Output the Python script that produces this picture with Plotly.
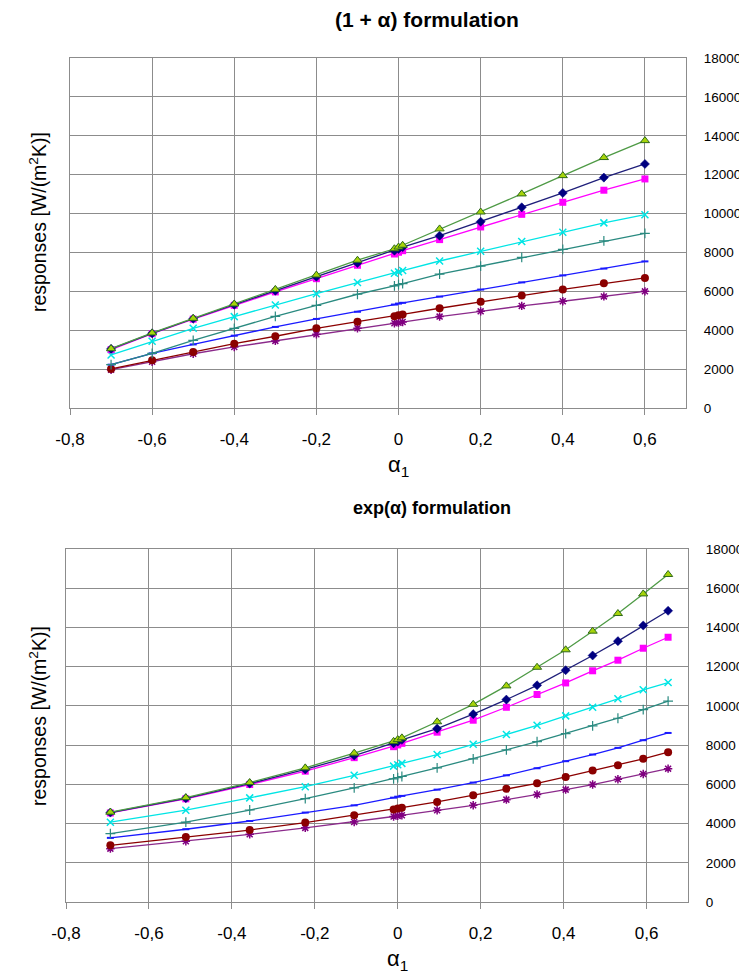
import plotly.graph_objects as go

W, H = 747, 976
OFF = 8  # default page body margin

# ---------------- data ----------------
x_top = [-0.7, -0.6, -0.5, -0.4, -0.3, -0.2, -0.1, -0.01, 0, 0.01, 0.1, 0.2, 0.3, 0.4, 0.5, 0.6]
top_green = [3050, 3860, 4610, 5350, 6100, 6840, 7600, 8190, 8280, 8370, 9210, 10080, 11010, 11950, 12880, 13750]
top_navy = [3040, 3840, 4590, 5310, 6030, 6750, 7460, 8090, 8180, 8270, 8860, 9580, 10320, 11060, 11850, 12550]
top_magenta = [3000, 3820, 4570, 5280, 5970, 6650, 7340, 7920, 8010, 8090, 8660, 9310, 9960, 10580, 11200, 11780]
top_cyan = [2730, 3430, 4100, 4700, 5300, 5880, 6450, 6930, 7000, 7070, 7560, 8060, 8560, 9040, 9520, 9940]
top_teal = [2230, 2810, 3480, 4100, 4710, 5280, 5850, 6280, 6340, 6400, 6880, 7300, 7750, 8160, 8590, 8980]
top_blue = [2230, 2810, 3270, 3720, 4170, 4580, 4950, 5320, 5370, 5410, 5730, 6090, 6460, 6820, 7170, 7540]
top_darkred = [2010, 2450, 2880, 3310, 3690, 4100, 4440, 4720, 4770, 4810, 5130, 5470, 5780, 6100, 6410, 6690]
top_purple = [1970, 2380, 2790, 3140, 3450, 3790, 4100, 4360, 4390, 4420, 4700, 4970, 5250, 5490, 5740, 6000]

x_bot = [-0.693, -0.511, -0.357, -0.223, -0.105, -0.01, 0, 0.01, 0.095, 0.182, 0.262, 0.336, 0.405, 0.47, 0.531, 0.592, 0.652]
bot_green = [4580, 5320, 6090, 6840, 7590, 8190, 8280, 8370, 9190, 10080, 11020, 11970, 12860, 13810, 14710, 15710, 16700]
bot_navy = [4560, 5290, 6040, 6760, 7470, 8090, 8180, 8270, 8840, 9580, 10320, 11050, 11820, 12570, 13300, 14100, 14850]
bot_magenta = [4540, 5260, 5990, 6670, 7360, 7920, 8010, 8090, 8660, 9270, 9930, 10580, 11170, 11790, 12330, 12940, 13500]
bot_cyan = [4070, 4680, 5310, 5880, 6460, 6930, 7000, 7070, 7520, 8040, 8540, 9010, 9490, 9930, 10360, 10820, 11190]
bot_teal = [3490, 4070, 4690, 5270, 5820, 6280, 6340, 6400, 6840, 7300, 7760, 8180, 8590, 8980, 9370, 9810, 10240]
bot_blue = [3270, 3710, 4130, 4560, 4930, 5320, 5370, 5410, 5730, 6090, 6460, 6820, 7180, 7520, 7860, 8250, 8620]
bot_darkred = [2890, 3320, 3670, 4050, 4420, 4720, 4770, 4810, 5100, 5440, 5770, 6050, 6380, 6700, 6970, 7300, 7640]
bot_purple = [2720, 3100, 3450, 3780, 4080, 4360, 4390, 4420, 4680, 4930, 5220, 5480, 5730, 5990, 6260, 6530, 6800]

x_tickvals = [-0.8, -0.6, -0.4, -0.2, 0, 0.2, 0.4, 0.6]
x_ticktext = ["-0,8", "-0,6", "-0,4", "-0,2", "0", "0,2", "0,4", "0,6"]
y_tickvals = [0, 2000, 4000, 6000, 8000, 10000, 12000, 14000, 16000, 18000]

title_top = "<b>(1 + α) formulation</b>"
title_bot = "<b>exp(α) formulation</b>"
y_title = "responses [W/(m<sup>2</sup>K)]"
x_title = "α<sub>1</sub>"

# ---------------- styles ----------------
styles = [
    dict(line=dict(color="#4e9a45", width=1.3),
         marker=dict(symbol="triangle-up", size=8, color="#a6d40a", line=dict(color="#2f6a1a", width=1))),
    dict(line=dict(color="#1f1f7a", width=1.3),
         marker=dict(symbol="diamond", size=7, color="#000080", line=dict(color="#000080", width=0.5))),
    dict(line=dict(color="#ff00ff", width=1.3),
         marker=dict(symbol="square", size=7, color="#ff00ff")),
    dict(line=dict(color="#00e5e5", width=1.3),
         marker=dict(symbol="x-thin", size=7, color="#00e5e5", line=dict(color="#00e5e5", width=1.5))),
    dict(line=dict(color="#2a8a80", width=1.3),
         marker=dict(symbol="cross-thin", size=7, color="#2a8a80", line=dict(color="#2a8a80", width=1.2))),
    dict(line=dict(color="#1a1aff", width=1.3),
         marker=dict(symbol="line-ew", size=5, color="#1a1aff", line=dict(color="#1a1aff", width=2))),
    dict(line=dict(color="#8b0000", width=1.3),
         marker=dict(symbol="circle", size=8, color="#8b0000")),
    dict(line=dict(color="#8b2a8b", width=1.3),
         marker=dict(symbol="asterisk-open", size=7, color="#800080", line=dict(color="#800080", width=1.5))),
]

top_series = [top_green, top_navy, top_magenta, top_cyan, top_teal, top_blue, top_darkred, top_purple]
bot_series = [bot_green, bot_navy, bot_magenta, bot_cyan, bot_teal, bot_blue, bot_darkred, bot_purple]

fig = go.Figure()
for i in reversed(range(8)):
    fig.add_trace(go.Scatter(x=x_top, y=top_series[i], mode="lines+markers",
                             xaxis="x", yaxis="y", showlegend=False, **styles[i]))
for i in reversed(range(8)):
    fig.add_trace(go.Scatter(x=x_bot, y=bot_series[i], mode="lines+markers",
                             xaxis="x2", yaxis="y2", showlegend=False, **styles[i]))

FW, FH = W - OFF, H - OFF

def px_x(p):
    return (p - OFF) / FW

def px_y(p):
    return 1 - (p - OFF) / FH

grid = "#8c8c8c"
tickfont_x = dict(family="Liberation Sans Narrow, Arial Narrow, Liberation Sans, Arial", size=17, color="#000")
tickfont_y = dict(family="Liberation Sans, Arial", size=13.5, color="#000")

def xaxis_cfg(dom, anchor):
    return dict(domain=dom, range=[-0.8, 0.7], anchor=anchor, automargin=False,
                tickvals=x_tickvals, ticktext=x_ticktext, tickfont=tickfont_x,
                showgrid=True, gridcolor=grid, gridwidth=1,
                showline=True, linecolor=grid, linewidth=1, mirror=True,
                ticks="outside", ticklen=6, tickcolor=grid, ticklabelstandoff=10,
                zeroline=False)

def yaxis_cfg(dom, anchor):
    return dict(domain=dom, range=[0, 18000], anchor=anchor, side="right", automargin=False,
                tickvals=y_tickvals, tickfont=tickfont_y, tickformat="d",
                showgrid=True, gridcolor=grid, gridwidth=1,
                showline=True, linecolor=grid, linewidth=1, mirror=True,
                ticks="", ticklabelstandoff=14, zeroline=False)

fig.update_layout(
    width=FW, height=FH,
    margin=dict(l=0, r=0, t=0, b=0, autoexpand=False),
    paper_bgcolor="white", plot_bgcolor="white",
    xaxis=xaxis_cfg([px_x(70), px_x(686)], "y"),
    yaxis=yaxis_cfg([px_y(408), px_y(58)], "x"),
    xaxis2=xaxis_cfg([px_x(66), px_x(688)], "y2"),
    yaxis2=yaxis_cfg([px_y(902), px_y(549)], "x2"),
    showlegend=False,
)

ann_font = dict(family="Liberation Sans, Arial", color="#000")
annotations = [
    dict(text=title_top, x=px_x(427), y=px_y(20), font=dict(size=21, **ann_font)),
    dict(text=title_bot, x=px_x(432), y=px_y(508), font=dict(size=18, **ann_font)),
    dict(text=y_title, x=px_x(38), y=px_y(222), textangle=-90, font=dict(size=19.5, **ann_font)),
    dict(text=y_title, x=px_x(38), y=px_y(716), textangle=-90, font=dict(size=19.5, **ann_font)),
    dict(text=x_title, x=px_x(398), y=px_y(466), font=dict(size=22, **ann_font)),
    dict(text=x_title, x=px_x(397), y=px_y(960), font=dict(size=22, **ann_font)),
]
for a in annotations:
    a.update(xref="paper", yref="paper", showarrow=False, xanchor="center", yanchor="middle")
fig.update_layout(annotations=annotations)

fig.write_html("out.html")
